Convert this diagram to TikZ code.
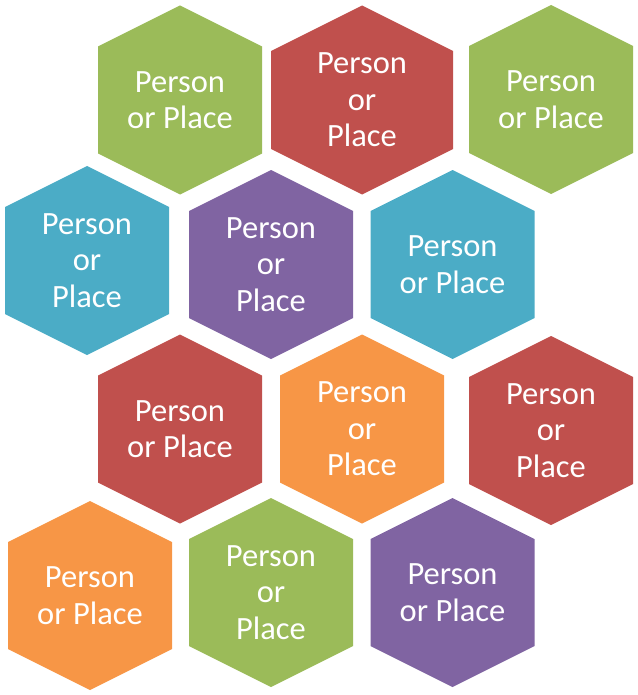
\documentclass[tikz,border=0pt]{standalone}
\usepackage{fontspec}
\setmainfont{Carlito}
\definecolor{hgreen}{HTML}{9BBB59}
\definecolor{hred}{HTML}{C0504D}
\definecolor{hblue}{HTML}{4BACC6}
\definecolor{hpurple}{HTML}{8064A2}
\definecolor{horange}{HTML}{F79646}
\tikzset{
  hexlabel/.style={text=white, align=center, inner sep=0pt, font=\fontsize{32.5}{36.5}\selectfont},
}
% #1 name, #2 cx, #3 cy, #4 colour, #5 half width, #6 corner offset, #7 text
\newcommand\hexcell[7]{%
  \fill[#4] (#2,#3-94.5) -- (#2+#5,#3-#6) -- (#2+#5,#3+#6) -- (#2,#3+94.5)
    -- (#2-#5,#3+#6) -- (#2-#5,#3-#6) -- cycle;
  \node[hexlabel] (#1) at (#2,#3) {#7};
}
\begin{document}
\begin{tikzpicture}[x=1pt,y=-1pt]
\useasboundingbox (0,0) rectangle (637,695);
\hexcell{h1}{180}{100}{hgreen}{82}{53.5}{Person\\or Place}
\hexcell{h2}{362}{100}{hred}{91}{49}{Person\\or\\Place}
\hexcell{h3}{551}{99.5}{hgreen}{82}{53.5}{Person\\or Place}
\hexcell{h4}{87}{260.5}{hblue}{82}{53.5}{Person\\or\\Place}
\hexcell{h5}{271}{264.5}{hpurple}{82}{53.5}{Person\\or\\Place}
\hexcell{h6}{452.5}{264.5}{hblue}{82}{53.5}{Person\\or Place}
\hexcell{h7}{180}{429}{hred}{82}{53.5}{Person\\or Place}
\hexcell{h8}{362}{429}{horange}{82}{53.5}{Person\\or\\Place}
\hexcell{h9}{551}{430.5}{hred}{82}{53.5}{Person\\or\\Place}
\hexcell{h10}{90}{595.5}{horange}{82}{53.5}{Person\\or Place}
\hexcell{h11}{271}{592.5}{hgreen}{82}{53.5}{Person\\or\\Place}
\hexcell{h12}{452.5}{592.5}{hpurple}{82}{53.5}{Person\\or Place}
\end{tikzpicture}
\end{document}
